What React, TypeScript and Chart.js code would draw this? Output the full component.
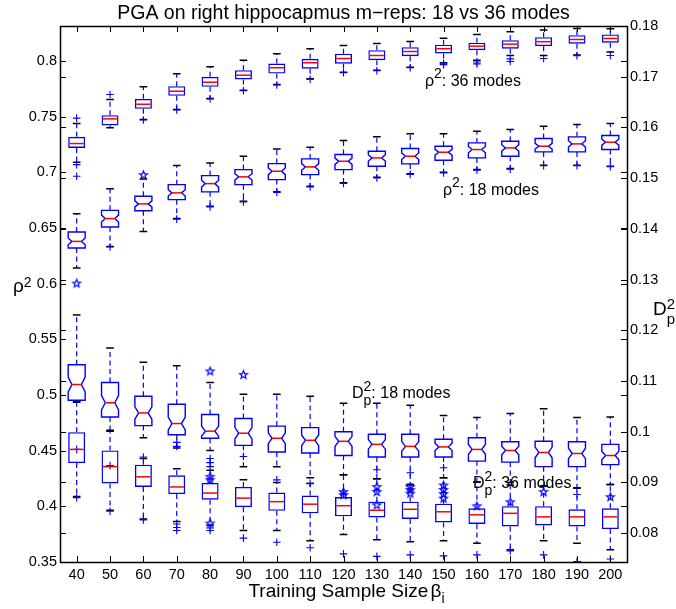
import React, { useEffect, useRef } from 'react';
import { Chart, registerables } from 'chart.js';

Chart.register(...registerables);

// ---------------- data ----------------
const CATEGORIES = ['40', '50', '60', '70', '80', '90', '100', '110', '120', '130', '140', '150', '160', '170', '180', '190', '200'];
const LEFT_TICKS = [0.35, 0.4, 0.45, 0.5, 0.55, 0.6, 0.65, 0.7, 0.75, 0.8];
const RIGHT_TICKS = [0.08, 0.09, 0.1, 0.11, 0.12, 0.13, 0.14, 0.15, 0.16, 0.17, 0.18];
const LEFT_RANGE = [0.35, 0.8315];
const RIGHT_RANGE = [0.0743, 0.18];
const N_PER_BOX = 56; // sample count used for the notch width

// rho^2, 36 modes (left axis)
const R36_HI = [0.7439, 0.7655, 0.7769, 0.7886, 0.7949, 0.8008, 0.8066, 0.8111, 0.8140, 0.8158, 0.8176, 0.8206, 0.8239, 0.8263, 0.8278, 0.8292, 0.8290];
const R36_Q3 = [0.7319, 0.7514, 0.7661, 0.7774, 0.7859, 0.7918, 0.7978, 0.8021, 0.8066, 0.8098, 0.8125, 0.8147, 0.8165, 0.8188, 0.8215, 0.8233, 0.8239];
const R36_MED = [0.7259, 0.7481, 0.7612, 0.7729, 0.7810, 0.7873, 0.7940, 0.7985, 0.8023, 0.8050, 0.8086, 0.8111, 0.8134, 0.8152, 0.8174, 0.8194, 0.8203];
const R36_Q1 = [0.7220, 0.7421, 0.7571, 0.7688, 0.7769, 0.7835, 0.7888, 0.7931, 0.7976, 0.8008, 0.8044, 0.8068, 0.8098, 0.8111, 0.8134, 0.8156, 0.8165];
const R36_LO = [0.7091, 0.7400, 0.7475, 0.7565, 0.7664, 0.7738, 0.7790, 0.7841, 0.7900, 0.7918, 0.7945, 0.7985, 0.8008, 0.8050, 0.8050, 0.8055, 0.8081];
const R36_OUT_PLUS: [string, number][] = [
  ['40', 0.7487], ['40', 0.7070], ['40', 0.6965], ['50', 0.7700], ['60', 0.7470], ['70', 0.7560],
  ['80', 0.7659], ['90', 0.7733], ['100', 0.7785], ['110', 0.7836], ['120', 0.7895], ['130', 0.7913],
  ['140', 0.7940], ['150', 0.7980], ['150', 0.7968], ['160', 0.7992], ['160', 0.7975], ['170', 0.8020],
  ['170', 0.7996], ['180', 0.8023], ['190', 0.8048], ['200', 0.8050],
];

// rho^2, 18 modes (left axis, notched)
const R18_HI = [0.6629, 0.6854, 0.6940, 0.7061, 0.7085, 0.7145, 0.7211, 0.7226, 0.7286, 0.7319, 0.7346, 0.7346, 0.7370, 0.7385, 0.7415, 0.7430, 0.7439];
const R18_Q3 = [0.6465, 0.6659, 0.6785, 0.6890, 0.6971, 0.7025, 0.7079, 0.7121, 0.7160, 0.7190, 0.7214, 0.7235, 0.7265, 0.7280, 0.7304, 0.7319, 0.7331];
const R18_MED = [0.6380, 0.6585, 0.6717, 0.6816, 0.6899, 0.6960, 0.7010, 0.7049, 0.7100, 0.7130, 0.7145, 0.7181, 0.7205, 0.7220, 0.7235, 0.7256, 0.7271];
const R18_Q1 = [0.6321, 0.6510, 0.6656, 0.6755, 0.6825, 0.6890, 0.6935, 0.6980, 0.7025, 0.7055, 0.7076, 0.7109, 0.7130, 0.7145, 0.7184, 0.7184, 0.7205];
const R18_LO = [0.6141, 0.6335, 0.6470, 0.6585, 0.6695, 0.6740, 0.6825, 0.6875, 0.6906, 0.6956, 0.6987, 0.7001, 0.7025, 0.7034, 0.7064, 0.7064, 0.7055];
const R18_OUT_PLUS: [string, number][] = [
  ['50', 0.6330], ['70', 0.6580], ['80', 0.6690], ['90', 0.6735], ['100', 0.6820], ['110', 0.6870],
  ['120', 0.6901], ['130', 0.6951], ['140', 0.6982], ['150', 0.6996], ['160', 0.7020], ['170', 0.7029],
  ['180', 0.7059], ['190', 0.7059], ['200', 0.7050],
];
const R18_OUT_STAR: [string, number][] = [['40', 0.6006], ['60', 0.6980]];

// D_p^2, 18 modes (right axis, notched)
const D18_HI = [0.1230, 0.1165, 0.1137, 0.1130, 0.1097, 0.1074, 0.1074, 0.1070, 0.1056, 0.1056, 0.1052, 0.1032, 0.1028, 0.1036, 0.1045, 0.1028, 0.1029];
const D18_Q3 = [0.1132, 0.1097, 0.1070, 0.1054, 0.1034, 0.1026, 0.1011, 0.1008, 0.1000, 0.0995, 0.0995, 0.0985, 0.0988, 0.0980, 0.0981, 0.0980, 0.0975];
const D18_MED = [0.1093, 0.1057, 0.1037, 0.1016, 0.1001, 0.0997, 0.0987, 0.0983, 0.0981, 0.0975, 0.0971, 0.0970, 0.0965, 0.0963, 0.0959, 0.0957, 0.0953];
const D18_Q1 = [0.1062, 0.1029, 0.1012, 0.0994, 0.0987, 0.0973, 0.0960, 0.0958, 0.0953, 0.0950, 0.0950, 0.0950, 0.0942, 0.0940, 0.0931, 0.0931, 0.0935];
const D18_LO = [0.1060, 0.1003, 0.0988, 0.0968, 0.0963, 0.0931, 0.0931, 0.0909, 0.0915, 0.0907, 0.0896, 0.0909, 0.0901, 0.0900, 0.0893, 0.0889, 0.0896];
const D18_OUT_PLUS: [string, number][] = [
  ['40', 0.0965], ['50', 0.0933], ['60', 0.0950], ['80', 0.0947], ['80', 0.0939], ['80', 0.0931],
];
const D18_OUT_STAR: [string, number][] = [
  ['80', 0.1120], ['80', 0.0912], ['80', 0.0906], ['80', 0.0820], ['90', 0.1113],
  ['120', 0.0882], ['120', 0.0876], ['130', 0.0892], ['130', 0.0882], ['130', 0.0856],
  ['140', 0.0892], ['140', 0.0886], ['140', 0.0879], ['150', 0.0895], ['150', 0.0886],
  ['150', 0.0878], ['150', 0.0869], ['160', 0.0854], ['170', 0.0862], ['180', 0.0882], ['200', 0.0872],
];

// D_p^2, 36 modes (right axis)
const D36_HI = [0.1058, 0.1001, 0.0947, 0.0927, 0.0924, 0.0905, 0.0900, 0.0898, 0.0915, 0.0907, 0.0896, 0.0909, 0.0901, 0.0895, 0.0893, 0.0889, 0.0896];
const D36_Q3 = [0.0999, 0.0963, 0.0935, 0.0914, 0.0899, 0.0891, 0.0880, 0.0874, 0.0871, 0.0862, 0.0862, 0.0858, 0.0849, 0.0853, 0.0853, 0.0847, 0.0849];
const D36_MED = [0.0965, 0.0931, 0.0911, 0.0891, 0.0879, 0.0869, 0.0862, 0.0857, 0.0854, 0.0845, 0.0847, 0.0842, 0.0836, 0.0839, 0.0832, 0.0832, 0.0832];
const D36_Q1 = [0.0938, 0.0898, 0.0891, 0.0877, 0.0866, 0.0851, 0.0844, 0.0839, 0.0833, 0.0831, 0.0828, 0.0821, 0.0818, 0.0813, 0.0815, 0.0813, 0.0808];
const D36_LO = [0.0872, 0.0845, 0.0828, 0.0823, 0.0816, 0.0805, 0.0805, 0.0785, 0.0797, 0.0787, 0.0783, 0.0785, 0.0780, 0.0767, 0.0785, 0.0780, 0.0767];
const D36_OUT_PLUS: [string, number][] = [
  ['40', 0.0870], ['50', 0.0843], ['60', 0.0826], ['70', 0.0979], ['70', 0.0971], ['70', 0.0818],
  ['70', 0.0811], ['70', 0.0805], ['80', 0.0810], ['80', 0.0805], ['90', 0.0951], ['90', 0.0790],
  ['100', 0.0905], ['100', 0.0782], ['110', 0.0898], ['110', 0.0771], ['120', 0.0759], ['130', 0.0925],
  ['130', 0.0754], ['140', 0.0919], ['140', 0.0757], ['150', 0.0929], ['150', 0.0755], ['160', 0.0757],
  ['170', 0.0765], ['180', 0.0757], ['190', 0.0876], ['190', 0.0744], ['200', 0.0749],
];

// text labels
const TITLE = 'PGA on right hippocapmus m\u2212reps: 18 vs 36 modes';
const X_TITLE = 'Training Sample Size';
// annotation anchors in data units: [category index, value, axis]
const ANNOTATIONS: { kind: 'rho' | 'D'; rest: string; at: [number, number]; axis: 'y' | 'y1' }[] = [
  { kind: 'rho', rest: ': 36 modes', at: [10.44, 0.7777], axis: 'y' },
  { kind: 'rho', rest: ': 18 modes', at: [10.98, 0.6797], axis: 'y' },
  { kind: 'D', rest: ': 18 modes', at: [8.255, 0.1066], axis: 'y1' },
  { kind: 'D', rest: ': 36 modes', at: [11.88, 0.0888], axis: 'y1' },
];

// ---------------- styling ----------------
const FONT = '"Liberation Sans", Arial, Helvetica, sans-serif';
const BLUE = '#0000ff';
const RED = '#ff0000';
const BOX_FRACTION = 0.51;

type Series = { ds: number; axis: 'y' | 'y1'; hi: number[]; q3: number[]; med: number[]; q1: number[]; lo: number[]; notched: boolean };
const SERIES: Series[] = [
  { ds: 0, axis: 'y', hi: R36_HI, q3: R36_Q3, med: R36_MED, q1: R36_Q1, lo: R36_LO, notched: false },
  { ds: 1, axis: 'y', hi: R18_HI, q3: R18_Q3, med: R18_MED, q1: R18_Q1, lo: R18_LO, notched: true },
  { ds: 2, axis: 'y1', hi: D18_HI, q3: D18_Q3, med: D18_MED, q1: D18_Q1, lo: D18_LO, notched: true },
  { ds: 3, axis: 'y1', hi: D36_HI, q3: D36_Q3, med: D36_MED, q1: D36_Q1, lo: D36_LO, notched: false },
];

function makeStar(r: number): HTMLCanvasElement {
  const size = Math.ceil(r * 2 + 4);
  const c = document.createElement('canvas');
  c.width = size;
  c.height = size;
  const g = c.getContext('2d')!;
  g.strokeStyle = BLUE;
  g.lineWidth = 1.15;
  g.beginPath();
  for (let k = 0; k < 10; k++) {
    const ang = -Math.PI / 2 + (k * Math.PI) / 5;
    const rr = k % 2 === 0 ? r : r * 0.42;
    const px = size / 2 + rr * Math.cos(ang);
    const py = size / 2 + 0.5 + rr * Math.sin(ang);
    if (k === 0) g.moveTo(px, py);
    else g.lineTo(px, py);
  }
  g.closePath();
  g.stroke();
  return c;
}

const boxPlugin = {
  id: 'matlabBoxes',
  beforeDatasetsDraw(chart: any) {
    const ctx: CanvasRenderingContext2D = chart.ctx;
    SERIES.forEach((s) => {
      const meta = chart.getDatasetMeta(s.ds);
      const sc = chart.scales[s.axis];
      meta.data.forEach((el: any, j: number) => {
        const x = el.x;
        const w = el.width;
        const pHi = sc.getPixelForValue(s.hi[j]);
        const pQ3 = sc.getPixelForValue(s.q3[j]);
        const pQ1 = sc.getPixelForValue(s.q1[j]);
        const pLo = sc.getPixelForValue(s.lo[j]);
        ctx.save();
        ctx.strokeStyle = BLUE;
        ctx.lineWidth = 1.2;
        ctx.setLineDash([5, 3.5]);
        ctx.beginPath();
        ctx.moveTo(x, pQ3);
        ctx.lineTo(x, pHi);
        ctx.moveTo(x, pQ1);
        ctx.lineTo(x, pLo);
        ctx.stroke();
        ctx.setLineDash([]);
        ctx.strokeStyle = '#000';
        ctx.lineWidth = 1.5;
        const cw = (w * 0.45) / 2;
        ctx.beginPath();
        ctx.moveTo(x - cw, pHi);
        ctx.lineTo(x + cw, pHi);
        ctx.moveTo(x - cw, pLo);
        ctx.lineTo(x + cw, pLo);
        ctx.stroke();
        ctx.restore();
      });
    });
  },
  afterDatasetsDraw(chart: any) {
    const ctx: CanvasRenderingContext2D = chart.ctx;
    SERIES.forEach((s) => {
      const meta = chart.getDatasetMeta(s.ds);
      const sc = chart.scales[s.axis];
      meta.data.forEach((el: any, j: number) => {
        const x = el.x;
        const half = el.width / 2;
        const pQ3 = sc.getPixelForValue(s.q3[j]);
        const pQ1 = sc.getPixelForValue(s.q1[j]);
        const pMed = sc.getPixelForValue(s.med[j]);
        ctx.save();
        if (s.notched) {
          const inset = el.width * 0.22;
          const notch = (1.57 * (s.q3[j] - s.q1[j])) / Math.sqrt(N_PER_BOX);
          const nTop = sc.getPixelForValue(Math.min(s.q3[j], s.med[j] + notch));
          const nBot = sc.getPixelForValue(Math.max(s.q1[j], s.med[j] - notch));
          ctx.strokeStyle = BLUE;
          ctx.lineWidth = 1.4;
          ctx.beginPath();
          ctx.moveTo(x - half, pQ1);
          ctx.lineTo(x - half, nBot);
          ctx.lineTo(x - half + inset, pMed);
          ctx.lineTo(x - half, nTop);
          ctx.lineTo(x - half, pQ3);
          ctx.lineTo(x + half, pQ3);
          ctx.lineTo(x + half, nTop);
          ctx.lineTo(x + half - inset, pMed);
          ctx.lineTo(x + half, nBot);
          ctx.lineTo(x + half, pQ1);
          ctx.closePath();
          ctx.stroke();
          ctx.strokeStyle = RED;
          ctx.lineWidth = 1.5;
          ctx.beginPath();
          ctx.moveTo(x - half + inset, pMed);
          ctx.lineTo(x + half - inset, pMed);
          ctx.stroke();
        } else {
          ctx.strokeStyle = RED;
          ctx.lineWidth = 1.5;
          ctx.beginPath();
          ctx.moveTo(x - half + 1.4, pMed);
          ctx.lineTo(x + half - 1.4, pMed);
          ctx.stroke();
        }
        ctx.restore();
      });
    });
  },
  afterDraw(chart: any) {
    const ctx: CanvasRenderingContext2D = chart.ctx;
    const { left, right, top, bottom } = chart.chartArea;
    const xs = chart.scales.x;
    const ys = chart.scales.y;
    const y1 = chart.scales.y1;
    const TL = 6;
    ctx.save();
    // frame
    ctx.strokeStyle = '#000';
    ctx.lineWidth = 1.5;
    ctx.strokeRect(Math.round(left) + 0.5, Math.round(top) + 0.5, Math.round(right - left), Math.round(bottom - top));
    // inward ticks on all sides
    ctx.lineWidth = 1;
    ctx.beginPath();
    xs.ticks.forEach((_t: any, i: number) => {
      const px = Math.round(xs.getPixelForTick(i)) + 0.5;
      ctx.moveTo(px, bottom);
      ctx.lineTo(px, bottom - TL);
      ctx.moveTo(px, top);
      ctx.lineTo(px, top + TL);
    });
    [ys, y1].forEach((sc: any) => {
      sc.ticks.forEach((t: any) => {
        const py = Math.round(sc.getPixelForValue(t.value)) + 0.5;
        ctx.moveTo(left, py);
        ctx.lineTo(left + TL, py);
        ctx.moveTo(right, py);
        ctx.lineTo(right - TL, py);
      });
    });
    ctx.stroke();

    ctx.fillStyle = '#000';
    ctx.textBaseline = 'alphabetic';
    const cx = (left + right) / 2;
    // title
    ctx.font = `19.5px ${FONT}`;
    ctx.textAlign = 'center';
    ctx.fillText(TITLE, cx, top - 7);
    // x title with beta_i
    ctx.textAlign = 'left';
    ctx.font = `19px ${FONT}`;
    const wMain = ctx.measureText(X_TITLE + ' ').width;
    const wBeta = ctx.measureText('\u03b2').width;
    ctx.font = `14px ${FONT}`;
    const wSub = ctx.measureText('i').width;
    const total = wMain - 3 + wBeta + wSub;
    let xx = cx - total / 2 + 3;
    const xb = bottom + 35;
    ctx.font = `19px ${FONT}`;
    ctx.fillText(X_TITLE, xx, xb);
    xx += wMain - 3;
    ctx.fillText('\u03b2', xx, xb);
    xx += wBeta;
    ctx.font = `14px ${FONT}`;
    ctx.fillText('i', xx, xb + 6);
    // left y label rho^2
    const midY = (top + bottom) / 2;
    const lx = left - 47;
    ctx.font = `19px ${FONT}`;
    ctx.fillText('\u03c1', lx, midY - 2);
    const wr = ctx.measureText('\u03c1').width;
    ctx.font = `14px ${FONT}`;
    ctx.fillText('2', lx + wr, midY - 7);
    // right y label D_p^2
    ctx.font = `19px ${FONT}`;
    const dx = right + 26;
    ctx.fillText('D', dx, midY + 21);
    const wd = ctx.measureText('D').width;
    ctx.font = `15px ${FONT}`;
    ctx.fillText('2', dx + wd, midY + 15);
    ctx.fillText('p', dx + wd, midY + 30);

    // annotations
    ANNOTATIONS.forEach((a) => {
      const ax = xs.getPixelForValue(a.at[0]);
      const ay = chart.scales[a.axis].getPixelForValue(a.at[1]);
      ctx.font = `16px ${FONT}`;
      if (a.kind === 'rho') {
        ctx.fillText('\u03c1', ax, ay);
        let px = ax + ctx.measureText('\u03c1').width;
        ctx.font = `14px ${FONT}`;
        ctx.fillText('2', px, ay - 8);
        px += ctx.measureText('2').width;
        ctx.font = `16px ${FONT}`;
        ctx.fillText(a.rest, px, ay);
      } else {
        ctx.fillText('D', ax, ay);
        let px = ax + ctx.measureText('D').width;
        ctx.font = `14px ${FONT}`;
        ctx.fillText('2', px, ay - 7);
        ctx.fillText('p', px, ay + 6.5);
        px += Math.max(ctx.measureText('2').width, ctx.measureText('p').width);
        ctx.font = `16px ${FONT}`;
        ctx.fillText(a.rest, px, ay);
      }
    });
    ctx.restore();
  },
};

function boxDataset(label: string, q1: number[], q3: number[], axis: string, visible: boolean) {
  return {
    type: 'bar' as const,
    label,
    data: CATEGORIES.map((_c, i) => [q1[i], q3[i]]),
    yAxisID: axis,
    backgroundColor: 'rgba(0,0,0,0)',
    borderColor: visible ? BLUE : 'rgba(0,0,0,0)',
    borderWidth: visible ? 1.4 : 0,
    borderSkipped: false,
    grouped: false,
    categoryPercentage: 1,
    barPercentage: BOX_FRACTION,
  };
}

function outlierDataset(label: string, pts: [string, number][], axis: string, style: any, radius: number) {
  return {
    type: 'line' as const,
    label,
    data: pts.map(([c, v]) => ({ x: c, y: v })),
    yAxisID: axis,
    showLine: false,
    pointStyle: style,
    pointRadius: radius,
    pointHoverRadius: radius,
    pointBorderColor: BLUE,
    pointBackgroundColor: 'rgba(0,0,0,0)',
    pointBorderWidth: 1.1,
  };
}

export default function App() {
  const ref = useRef<HTMLCanvasElement>(null);
  useEffect(() => {
    const canvas = ref.current!;
    const star = makeStar(4.2);
    const tickFont = { family: FONT, size: 14.5 };
    const chart = new Chart(canvas, {
      type: 'bar',
      data: {
        labels: CATEGORIES,
        datasets: [
          boxDataset('rho2 36 modes', R36_Q1, R36_Q3, 'y', true),
          boxDataset('rho2 18 modes', R18_Q1, R18_Q3, 'y', false),
          boxDataset('Dp2 18 modes', D18_Q1, D18_Q3, 'y1', false),
          boxDataset('Dp2 36 modes', D36_Q1, D36_Q3, 'y1', true),
          outlierDataset('rho2 36 outliers', R36_OUT_PLUS, 'y', 'cross', 3.8),
          outlierDataset('rho2 18 outliers', R18_OUT_PLUS, 'y', 'cross', 3.8),
          outlierDataset('rho2 18 outliers *', R18_OUT_STAR, 'y', star, 5),
          outlierDataset('Dp2 18 outliers', D18_OUT_PLUS, 'y1', 'cross', 3.8),
          outlierDataset('Dp2 18 outliers *', D18_OUT_STAR, 'y1', star, 5),
          outlierDataset('Dp2 36 outliers', D36_OUT_PLUS, 'y1', 'cross', 3.8),
        ] as any,
      },
      options: {
        responsive: false,
        maintainAspectRatio: false,
        devicePixelRatio: 1,
        animation: false,
        events: [],
        layout: { padding: { top: 26, left: 0, right: 0, bottom: 0 } },
        plugins: { legend: { display: false }, tooltip: { enabled: false }, title: { display: false } },
        scales: {
          x: {
            type: 'category',
            offset: true,
            grid: { display: false, drawTicks: false },
            border: { display: false },
            ticks: { color: '#000', font: tickFont, padding: 4, autoSkip: false, maxRotation: 0 },
            afterFit: (s: any) => { s.height = 47; },
          },
          y: {
            type: 'linear',
            position: 'left',
            min: LEFT_RANGE[0],
            max: LEFT_RANGE[1],
            grid: { display: false, drawTicks: false },
            border: { display: false },
            ticks: { color: '#000', font: tickFont, padding: 3, callback: (v: any) => String(Number(v)) },
            afterBuildTicks: (s: any) => { s.ticks = LEFT_TICKS.map((v) => ({ value: v })); },
            afterFit: (s: any) => { s.width = 60; },
          },
          y1: {
            type: 'linear',
            position: 'right',
            min: RIGHT_RANGE[0],
            max: RIGHT_RANGE[1],
            grid: { display: false, drawTicks: false },
            border: { display: false },
            ticks: { color: '#000', font: tickFont, padding: 3, callback: (v: any) => String(Number(v)) },
            afterBuildTicks: (s: any) => { s.ticks = RIGHT_TICKS.map((v) => ({ value: v })); },
            afterFit: (s: any) => { s.width = 49; },
          },
        },
      } as any,
      plugins: [boxPlugin],
    });
    return () => chart.destroy();
  }, []);
  return (
    <div style={{ position: 'absolute', left: 0, top: 0, width: 676, height: 609, background: '#fff' }}>
      <canvas ref={ref} width={676} height={609} style={{ display: 'block', width: 676, height: 609 }} />
    </div>
  );
}
